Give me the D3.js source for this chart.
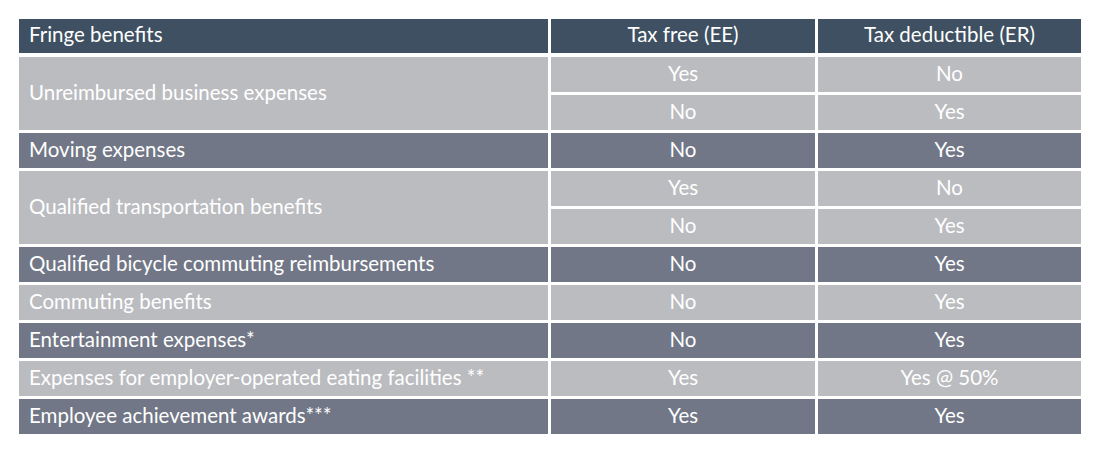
<!DOCTYPE html>
<html><head><meta charset="utf-8">
<script src="https://cdn.jsdelivr.net/npm/d3@7"></script>
<style>body{margin:0;background:#fff}svg{display:block}text{font-family:Lato,"Open Sans",sans-serif;fill:#fff}</style>
</head><body>
<svg id="chart" width="1100" height="455"></svg>
<script>
const headers = ["Fringe benefits", "Tax free (EE)", "Tax deductible (ER)"]
const benefits = ["Unreimbursed business expenses", "Moving expenses", "Qualified transportation benefits",
  "Qualified bicycle commuting reimbursements", "Commuting benefits", "Entertainment expenses*",
  "Expenses for employer-operated eating facilities **", "Employee achievement awards***"]
const taxFree = [["Yes", "No"], ["No"], ["Yes", "No"], ["No"], ["No"], ["No"], ["Yes"], ["Yes"]]
const taxDeductible = [["No", "Yes"], ["Yes"], ["No", "Yes"], ["Yes"], ["Yes"], ["Yes"], ["Yes @ 50%"], ["Yes"]]
const shade = ["light", "dark", "light", "dark", "light", "dark", "light", "dark"]

const colors = { header: "#3e5061", light: "#bbbcc0", dark: "#717786" }
const svg = d3.select("#chart")
const gap = 3
const fs = 20.5

const x = d3.scaleOrdinal().domain([0, 1, 2]).range([19, 551, 818])
const w = d3.scaleOrdinal().domain([0, 1, 2]).range([529, 264, 263])

// slots: one per sub-row
let slot = 0
const rows = benefits.map((b, i) => {
  const r = { label: b, start: slot, n: taxFree[i].length, shade: shade[i], ee: taxFree[i], er: taxDeductible[i] }
  slot += r.n
  return r
})
const y = d3.scaleLinear().domain([0, slot]).range([57, 57 + slot * 38])

// header
const hg = svg.append("g")
headers.forEach((h, c) => {
  hg.append("rect").attr("x", x(c)).attr("y", 19).attr("width", w(c)).attr("height", 34).attr("fill", colors.header)
  hg.append("text").attr("x", c === 0 ? x(c) + 10 : x(c) + w(c) / 2).attr("y", 35).attr("dy", "0.35em")
    .attr("text-anchor", c === 0 ? "start" : "middle").attr("font-size", fs).text(h)
})

const body = svg.append("g")
rows.forEach(r => {
  const fill = colors[r.shade]
  body.append("rect").attr("x", x(0)).attr("y", y(r.start)).attr("width", w(0))
    .attr("height", y(r.start + r.n) - y(r.start) - gap).attr("fill", fill)
  body.append("text").attr("x", x(0) + 10).attr("y", (y(r.start) + y(r.start + r.n) - gap) / 2 - 1).attr("dy", "0.35em")
    .attr("font-size", fs).text(r.label)
  ;[r.ee, r.er].forEach((vals, k) => {
    vals.forEach((v, j) => {
      const c = k + 1
      body.append("rect").attr("x", x(c)).attr("y", y(r.start + j)).attr("width", w(c))
        .attr("height", y(1) - y(0) - gap).attr("fill", fill)
      body.append("text").attr("x", x(c) + w(c) / 2).attr("y", (y(r.start + j) + y(r.start + j + 1) - gap) / 2 - 1)
        .attr("dy", "0.35em").attr("text-anchor", "middle").attr("font-size", fs).text(v)
    })
  })
})
</script>
</body></html>
